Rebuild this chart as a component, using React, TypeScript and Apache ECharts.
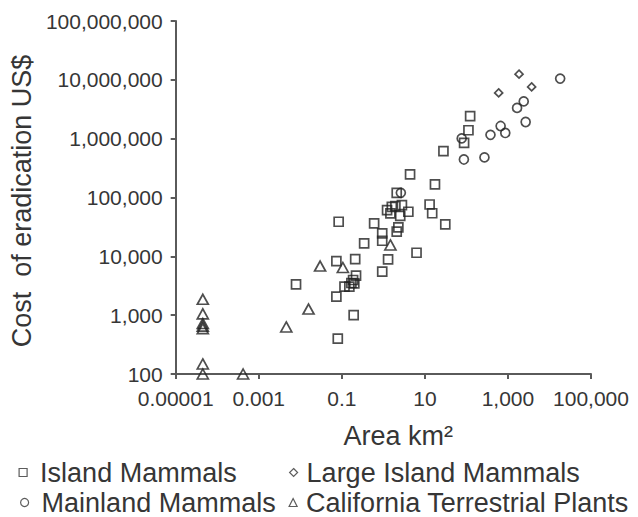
import React, { useEffect, useRef } from "react";
import * as echarts from "echarts";

// ---- Data (area in km², cost in US$) ----
const islandMammalsArea = [
  0.0079, 0.084, 0.074, 0.21, 0.074, 0.116, 0.152, 0.187, 0.22, 0.2, 0.17, 0.193, 0.08,
  0.345, 0.6, 0.94, 0.94, 1.3, 0.94, 2.1, 2.3, 6.3, 4.4, 17.5, 13, 15, 31, 28, 88, 112,
  123, 2.1, 1.23, 1.6, 1.95, 2.8, 4.0, 2.55, 1.48,
];
const islandMammalsCost = [
  3350, 38700, 8300, 9000, 2060, 3050, 3050, 3960, 4700, 3480, 3520, 1000, 400,
  16600, 36300, 24500, 18400, 8900, 5500, 26200, 31100, 11500, 247000, 167000, 76000, 54000, 35000, 614000, 850000, 1390000,
  2410000, 120000, 61000, 69500, 71400, 74300, 57200, 48900, 53700,
];

const mainlandMammalsArea = [2.64, 77, 87, 272, 380, 667, 863, 1660, 2400, 2670, 18100];
const mainlandMammalsCost = [120000, 1010000, 443000, 480000, 1160000, 1640000, 1250000, 3330000, 4300000, 1920000, 10500000];

const largeIslandMammalsArea = [598, 1850, 3720];
const largeIslandMammalsCost = [6000000, 12500000, 7580000];

const californiaPlantsArea = [
  0.000045, 0.000045, 0.000045, 0.000045, 0.000045, 0.000045, 0.000045,
  0.00042, 0.0046, 0.0158, 0.03, 0.106, 1.48,
];
const californiaPlantsCost = [
  1860, 1050, 720, 650, 590, 148, 100,
  100, 630, 1270, 6840, 6460, 15600,
];

const seriesNames = [
  "Island Mammals",
  "Large Island Mammals",
  "Mainland Mammals",
  "California Terrestrial Plants",
];

const FONT = "'Liberation Sans', Arial, Helvetica, sans-serif";
const TEXT = "#363636";
const AXIS = "#5a5a5a";
const MARK = "#222222";

function withCommas(n: number): string {
  return String(n).replace(/\B(?=(\d{3})+(?!\d))/g, ",");
}
function formatPow(v: number): string {
  const e = Math.round(v);
  if (e < 0) return Math.pow(10, e).toFixed(-e);
  return withCommas(Math.round(Math.pow(10, e)));
}
function toPoints(xs: number[], ys: number[]) {
  return xs.map((x, i) => [Math.log10(x), Math.log10(ys[i])]);
}

const markStyle = { color: "rgba(0,0,0,0)", borderColor: MARK, borderWidth: 1.7 };

export default function App() {
  const ref = useRef<HTMLDivElement>(null);
  useEffect(() => {
    if (!ref.current) return;
    const chart = echarts.init(ref.current, null, { renderer: "svg" });
    const legendBase = {
      orient: "horizontal",
      padding: 0,
      itemWidth: 8,
      itemHeight: 8,
      selectedMode: false,
      itemStyle: { color: "rgba(0,0,0,0)", borderColor: "#333", borderWidth: 1.2 },
    };
    const lt = (pad: number) => ({
      fontSize: 27,
      lineHeight: 24,
      fontFamily: FONT,
      color: TEXT,
      padding: [0, 0, 0, pad],
    });
    chart.setOption({
      animation: false,
      grid: { left: 168, top: 21, width: 423, height: 353, containLabel: false },
      xAxis: {
        type: "value",
        min: -5,
        max: 5,
        interval: 2,
        name: "Area km²",
        nameLocation: "middle",
        nameGap: 48,
        nameTextStyle: { fontSize: 27, fontFamily: FONT, color: TEXT, padding: [0, 0, 0, 30] },
        axisLine: { show: true, onZero: false, lineStyle: { color: AXIS, width: 2 } },
        axisTick: { show: true, length: 5, lineStyle: { color: AXIS, width: 2 } },
        axisLabel: { formatter: formatPow, fontSize: 21, fontFamily: FONT, color: TEXT, margin: 14 },
        splitLine: { show: false },
      },
      yAxis: {
        type: "value",
        min: 2,
        max: 8,
        interval: 1,
        name: "Cost  of eradication US$",
        nameLocation: "middle",
        nameGap: 130,
        nameTextStyle: { fontSize: 27, fontFamily: FONT, color: TEXT, padding: [0, 7, 0, 0] },
        axisLine: { show: true, onZero: false, lineStyle: { color: AXIS, width: 2 } },
        axisTick: { show: true, length: 5, lineStyle: { color: AXIS, width: 2 } },
        axisLabel: { formatter: formatPow, fontSize: 21, fontFamily: FONT, color: TEXT, margin: 13 },
        splitLine: { show: false },
      },
      legend: [
        { ...legendBase, data: [seriesNames[0]], left: 18.5, top: 459, textStyle: lt(8) },
        { ...legendBase, data: [seriesNames[1]], left: 289, top: 459, textStyle: lt(4) },
        { ...legendBase, data: [seriesNames[2]], left: 20, top: 489, textStyle: lt(8) },
        { ...legendBase, data: [seriesNames[3]], left: 288.5, top: 489, textStyle: lt(4) },
      ],
      series: [
        {
          type: "scatter",
          name: seriesNames[0],
          symbol: "rect",
          symbolSize: 9,
          itemStyle: markStyle,
          emphasis: { disabled: true },
          data: toPoints(islandMammalsArea, islandMammalsCost),
        },
        {
          type: "scatter",
          name: seriesNames[1],
          symbol: "diamond",
          symbolSize: 8,
          itemStyle: markStyle,
          emphasis: { disabled: true },
          data: toPoints(largeIslandMammalsArea, largeIslandMammalsCost),
        },
        {
          type: "scatter",
          name: seriesNames[2],
          symbol: "circle",
          symbolSize: 9,
          itemStyle: markStyle,
          emphasis: { disabled: true },
          data: toPoints(mainlandMammalsArea, mainlandMammalsCost),
        },
        {
          type: "scatter",
          name: seriesNames[3],
          symbol: "triangle",
          symbolSize: [11, 10],
          itemStyle: markStyle,
          emphasis: { disabled: true },
          data: toPoints(californiaPlantsArea, californiaPlantsCost),
        },
      ],
    });
    return () => chart.dispose();
  }, []);
  return (
    <div
      ref={ref}
      style={{ position: "absolute", left: 0, top: 0, width: 638, height: 517, background: "#fff" }}
    />
  );
}
